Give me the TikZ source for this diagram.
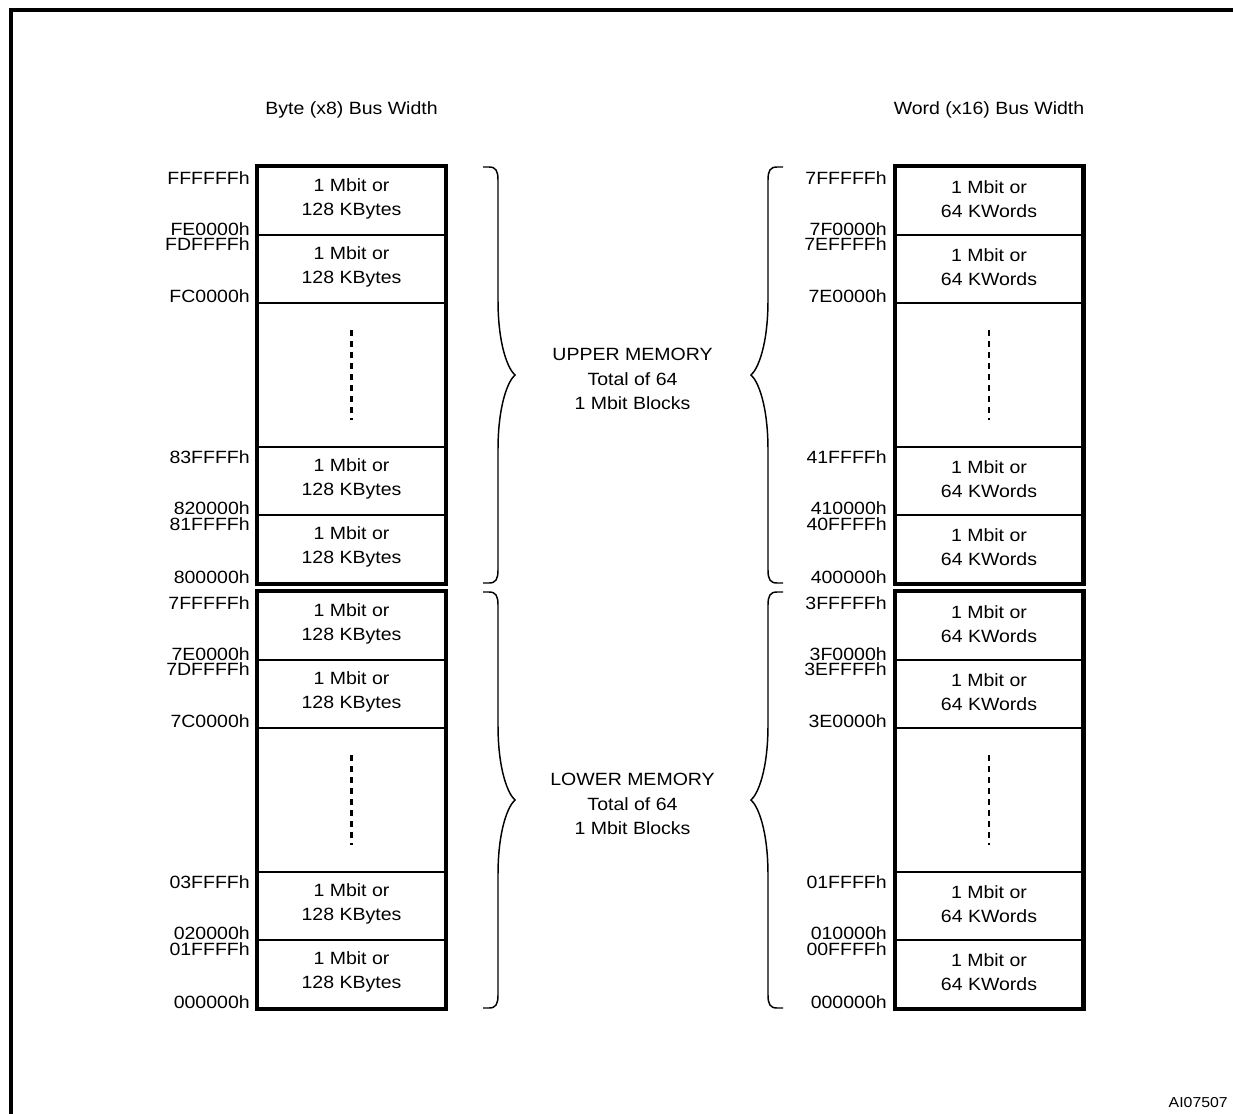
\documentclass[tikz,border=0pt]{standalone}
\usepackage{fontspec}
\setmainfont{Liberation Sans}[FakeStretch=1.1]
\begin{document}
\begin{tikzpicture}[x=0.75pt,y=-0.75pt,
  txt/.style={font=\fontsize{13.3}{17.5}\selectfont, inner sep=0pt},
  blktxt/.style={align=center, inner sep=0pt, yshift=1.5pt, font=\fontsize{13.3}{17.6}\selectfont},
  blk/.style={draw, line width=1.9pt, minimum width=140.25pt, minimum height=51pt, inner sep=0pt},
  dotblk/.style={draw, line width=1.9pt, minimum width=140.25pt, minimum height=108pt, inner sep=0pt},
  grp/.style={line width=2.6pt},
  lab/.style={anchor=base east, inner sep=0pt, font=\fontsize{13.3}{17.5}\selectfont},
  dotline/.style={line width=1.6pt, dash pattern=on 4.5pt off 3.75pt},
  bracestyle/.style={line width=1.1pt},
  midtxt/.style={align=center, inner sep=0pt, font=\fontsize{13.3}{18.3}\selectfont}]
\useasboundingbox (0,0) rectangle (1233,1114);
% frame
\draw[line width=2.3pt] (11,1114) -- (11,10) -- (1233,10);

% headers
\node[txt] (hL) at (351.5,110) {Byte (x8) Bus Width};
\node[txt] (hR) at (989,110) {Word (x16) Bus Width};

% ---------- left column ----------
\node[blk, label={[blktxt]center:{1 Mbit or\\128 KBytes}}] (L1) at (351.5,201) {};
\node[blk, label={[blktxt]center:{1 Mbit or\\128 KBytes}}] (L2) at (351.5,269) {};
\node[dotblk] (L3) at (351.5,375) {};
\node[blk, label={[blktxt]center:{1 Mbit or\\128 KBytes}}] (L4) at (351.5,481) {};
\node[blk, label={[blktxt]center:{1 Mbit or\\128 KBytes}}] (L5) at (351.5,549) {};
\draw[grp] (L1.north west) rectangle (L5.south east);
\draw[dotline] ([yshift=33.75pt]L3.center) -- ([yshift=-33.75pt]L3.center);

\node[blk, label={[blktxt]center:{1 Mbit or\\128 KBytes}}] (L6) at (351.5,626) {};
\node[blk, label={[blktxt]center:{1 Mbit or\\128 KBytes}}] (L7) at (351.5,694) {};
\node[dotblk] (L8) at (351.5,800) {};
\node[blk, label={[blktxt]center:{1 Mbit or\\128 KBytes}}] (L9) at (351.5,906) {};
\node[blk, label={[blktxt]center:{1 Mbit or\\128 KBytes}}] (L10) at (351.5,974) {};
\draw[grp] (L6.north west) rectangle (L10.south east);
\draw[dotline] ([yshift=33.75pt]L8.center) -- ([yshift=-33.75pt]L8.center);

% left labels
\node[lab] (la1) at (250,184) {FFFFFFh};
\node[lab] (la2) at (250,235.5) {FE0000h};
\node[lab] (la3) at (250,250.5) {FDFFFFh};
\node[lab] (la4) at (250,302) {FC0000h};
\node[lab] (la5) at (250,463) {83FFFFh};
\node[lab] (la6) at (250,514.5) {820000h};
\node[lab] (la7) at (250,530.5) {81FFFFh};
\node[lab] (la8) at (250,583) {800000h};
\node[lab] (lb1) at (250,609) {7FFFFFh};
\node[lab] (lb2) at (250,660.5) {7E0000h};
\node[lab] (lb3) at (250,675.5) {7DFFFFh};
\node[lab] (lb4) at (250,727) {7C0000h};
\node[lab] (lb5) at (250,888) {03FFFFh};
\node[lab] (lb6) at (250,939.5) {020000h};
\node[lab] (lb7) at (250,955.5) {01FFFFh};
\node[lab] (lb8) at (250,1008) {000000h};

% ---------- right column ----------
\node[blk, label={[blktxt]center:{1 Mbit or\\64 KWords}}] (R1) at (989,201) {};
\node[blk, label={[blktxt]center:{1 Mbit or\\64 KWords}}] (R2) at (989,269) {};
\node[dotblk] (R3) at (989,375) {};
\node[blk, label={[blktxt]center:{1 Mbit or\\64 KWords}}] (R4) at (989,481) {};
\node[blk, label={[blktxt]center:{1 Mbit or\\64 KWords}}] (R5) at (989,549) {};
\draw[grp] (R1.north west) rectangle (R5.south east);
\draw[dotline] ([yshift=33.75pt]R3.center) -- ([yshift=-33.75pt]R3.center);

\node[blk, label={[blktxt]center:{1 Mbit or\\64 KWords}}] (R6) at (989,626) {};
\node[blk, label={[blktxt]center:{1 Mbit or\\64 KWords}}] (R7) at (989,694) {};
\node[dotblk] (R8) at (989,800) {};
\node[blk, label={[blktxt]center:{1 Mbit or\\64 KWords}}] (R9) at (989,906) {};
\node[blk, label={[blktxt]center:{1 Mbit or\\64 KWords}}] (R10) at (989,974) {};
\draw[grp] (R6.north west) rectangle (R10.south east);
\draw[dotline] ([yshift=33.75pt]R8.center) -- ([yshift=-33.75pt]R8.center);

% right labels
\node[lab] (ra1) at (887,184) {7FFFFFh};
\node[lab] (ra2) at (887,235.5) {7F0000h};
\node[lab] (ra3) at (887,250.5) {7EFFFFh};
\node[lab] (ra4) at (887,302) {7E0000h};
\node[lab] (ra5) at (887,463) {41FFFFh};
\node[lab] (ra6) at (887,514.5) {410000h};
\node[lab] (ra7) at (887,530.5) {40FFFFh};
\node[lab] (ra8) at (887,583) {400000h};
\node[lab] (rb1) at (887,609) {3FFFFFh};
\node[lab] (rb2) at (887,660.5) {3F0000h};
\node[lab] (rb3) at (887,675.5) {3EFFFFh};
\node[lab] (rb4) at (887,727) {3E0000h};
\node[lab] (rb5) at (887,888) {01FFFFh};
\node[lab] (rb6) at (887,939.5) {010000h};
\node[lab] (rb7) at (887,955.5) {00FFFFh};
\node[lab] (rb8) at (887,1008) {000000h};

% ---------- braces ----------
% upper left (tip right)
\draw[bracestyle] (483,167) -- (489,167) .. controls (496,167) and (498,171) .. (498,180) -- (498,300)
  .. controls (498,345) and (508,369) .. (515,375) .. controls (508,381) and (498,405) .. (498,450)
  -- (498,570) .. controls (498,579) and (496,583) .. (489,583) -- (483,583);
% lower left
\draw[bracestyle] (483,592) -- (489,592) .. controls (496,592) and (498,596) .. (498,605) -- (498,725)
  .. controls (498,770) and (508,794) .. (515,800) .. controls (508,806) and (498,830) .. (498,875)
  -- (498,995) .. controls (498,1004) and (496,1008) .. (489,1008) -- (483,1008);
% upper right (tip left)
\draw[bracestyle] (783,167) -- (777,167) .. controls (770,167) and (768,171) .. (768,180) -- (768,300)
  .. controls (768,345) and (758,369) .. (751,375) .. controls (758,381) and (768,405) .. (768,450)
  -- (768,570) .. controls (768,579) and (770,583) .. (777,583) -- (783,583);
% lower right
\draw[bracestyle] (783,592) -- (777,592) .. controls (770,592) and (768,596) .. (768,605) -- (768,725)
  .. controls (768,770) and (758,794) .. (751,800) .. controls (758,806) and (768,830) .. (768,875)
  -- (768,995) .. controls (768,1004) and (770,1008) .. (777,1008) -- (783,1008);

% middle texts
\node[midtxt] (up) at (632.5,379) {UPPER MEMORY\\Total of 64\\1 Mbit Blocks};
\node[midtxt] (lo) at (632.5,804) {LOWER MEMORY\\Total of 64\\1 Mbit Blocks};

% code
\node[anchor=base east, inner sep=0pt, font=\fontsize{10.8}{13}\selectfont] (code) at (1228,1107) {AI07507};
\end{tikzpicture}
\end{document}
